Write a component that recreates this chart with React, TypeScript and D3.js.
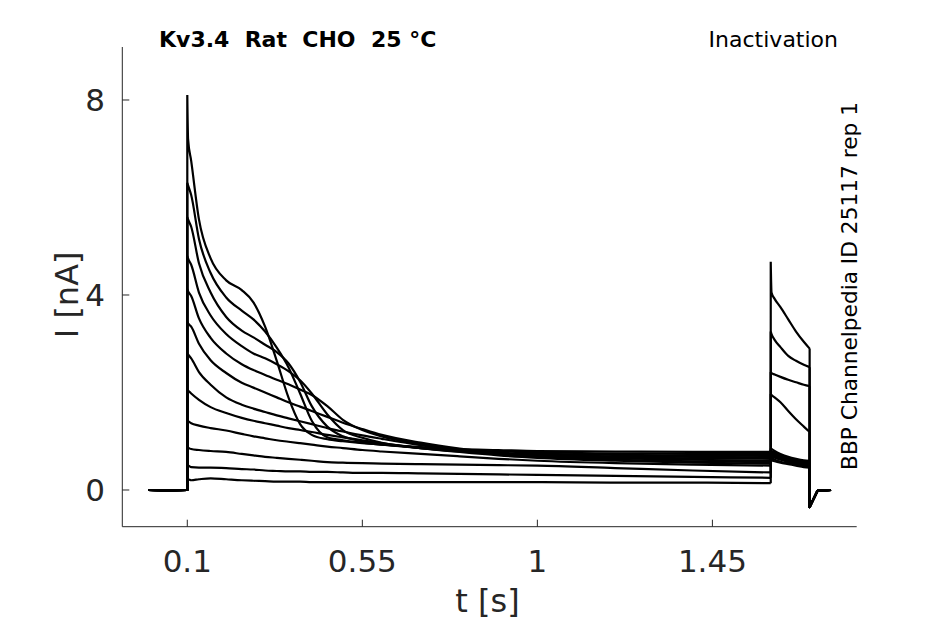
import React, { useEffect, useRef } from 'react';
import * as d3 from 'd3';

// sample times (s)
const baselineT = [0, 0.05, 0.1];
const prepulseT = [0.1, 0.102, 0.11, 0.13, 0.16, 0.2, 0.24, 0.27, 0.3, 0.33, 0.36, 0.39, 0.42, 0.46, 0.5, 0.55, 0.6, 0.7, 0.8, 0.9, 1.0, 1.2, 1.4, 1.6];
const testT = [1.6, 1.602, 1.61, 1.625, 1.645, 1.665, 1.685, 1.7];
const tailT = [1.7, 1.703, 1.72, 1.755];

// currents (nA)
const baselineI = [0, -0.01, 0];
const tailI = [-0.35, -0.3, -0.02, 0];

const sweep1 = [8.1, 7.2, 6.75, 5.55, 4.75, 4.3, 4.1, 3.85, 3.35, 2.65, 1.9, 1.35, 1.13, 1.04, 1.0, 0.96, 0.93, 0.88, 0.84, 0.82, 0.8, 0.79, 0.78, 0.78];
const sweep2 = [6.3, 6.25, 6.05, 5.15, 4.45, 3.95, 3.68, 3.5, 3.25, 2.92, 2.52, 1.98, 1.42, 1.08, 1.02, 0.97, 0.93, 0.87, 0.82, 0.79, 0.77, 0.75, 0.74, 0.74];
const sweep3 = [5.6, 5.55, 5.4, 4.65, 4.05, 3.55, 3.27, 3.13, 2.98, 2.83, 2.6, 2.22, 1.72, 1.3, 1.1, 1.0, 0.94, 0.86, 0.8, 0.76, 0.74, 0.72, 0.71, 0.7];
const sweep4 = [4.8, 4.75, 4.62, 4.05, 3.58, 3.2, 2.95, 2.8, 2.7, 2.58, 2.44, 2.25, 1.98, 1.55, 1.23, 1.07, 0.97, 0.86, 0.79, 0.74, 0.71, 0.69, 0.68, 0.67];
const sweep5 = [4.12, 4.08, 3.98, 3.52, 3.12, 2.8, 2.58, 2.46, 2.36, 2.26, 2.17, 2.06, 1.95, 1.72, 1.44, 1.23, 1.1, 0.94, 0.83, 0.76, 0.71, 0.67, 0.65, 0.64];
const sweep6 = [3.45, 3.42, 3.35, 3.0, 2.66, 2.4, 2.2, 2.1, 2.0, 1.9, 1.8, 1.71, 1.62, 1.5, 1.38, 1.25, 1.13, 0.97, 0.85, 0.76, 0.7, 0.65, 0.62, 0.6];
const sweep7 = [2.8, 2.78, 2.7, 2.42, 2.16, 1.9, 1.75, 1.67, 1.6, 1.53, 1.47, 1.41, 1.35, 1.27, 1.2, 1.12, 1.05, 0.92, 0.82, 0.74, 0.68, 0.62, 0.59, 0.57];
const sweep8 = [2.05, 2.04, 1.98, 1.85, 1.7, 1.58, 1.48, 1.42, 1.37, 1.32, 1.27, 1.23, 1.19, 1.13, 1.08, 1.02, 0.96, 0.86, 0.78, 0.71, 0.66, 0.6, 0.56, 0.54];
const sweep9 = [1.42, 1.41, 1.37, 1.32, 1.27, 1.22, 1.15, 1.1, 1.06, 1.02, 0.99, 0.96, 0.93, 0.89, 0.86, 0.82, 0.79, 0.74, 0.69, 0.64, 0.6, 0.55, 0.52, 0.5];
const sweep10 = [0.88, 0.87, 0.84, 0.82, 0.8, 0.78, 0.74, 0.71, 0.68, 0.66, 0.64, 0.62, 0.6, 0.57, 0.56, 0.55, 0.54, 0.53, 0.52, 0.51, 0.5, 0.45, 0.4, 0.36];
const sweep11 = [0.5, 0.5, 0.47, 0.46, 0.46, 0.45, 0.43, 0.42, 0.4, 0.39, 0.38, 0.38, 0.37, 0.37, 0.36, 0.35, 0.35, 0.34, 0.33, 0.32, 0.31, 0.29, 0.27, 0.25];
const sweep12 = [0.22, 0.22, 0.2, 0.22, 0.24, 0.22, 0.2, 0.19, 0.18, 0.17, 0.17, 0.17, 0.16, 0.16, 0.16, 0.16, 0.16, 0.16, 0.16, 0.16, 0.16, 0.15, 0.15, 0.14];

const test1 = [0.85, 0.84, 0.8, 0.74, 0.68, 0.64, 0.61, 0.6];
const test2 = [0.82, 0.8, 0.77, 0.72, 0.66, 0.62, 0.59, 0.58];
const test3 = [0.78, 0.77, 0.74, 0.69, 0.64, 0.6, 0.57, 0.56];
const test4 = [0.75, 0.74, 0.71, 0.67, 0.62, 0.58, 0.55, 0.54];
const test5 = [0.72, 0.71, 0.68, 0.64, 0.6, 0.56, 0.53, 0.52];
const test6 = [0.7, 0.69, 0.66, 0.62, 0.58, 0.54, 0.51, 0.5];
const test7 = [0.66, 0.65, 0.62, 0.58, 0.55, 0.52, 0.49, 0.48];
const test8 = [0.62, 0.61, 0.59, 0.56, 0.53, 0.5, 0.47, 0.46];
const test9 = [1.97, 1.95, 1.9, 1.8, 1.62, 1.45, 1.3, 1.19];
const test10 = [2.42, 2.4, 2.37, 2.32, 2.26, 2.21, 2.16, 2.13];
const test11 = [3.25, 3.2, 3.08, 2.93, 2.75, 2.65, 2.57, 2.52];
const test12 = [4.68, 4.05, 3.92, 3.75, 3.5, 3.25, 3.04, 2.9];

const prepulses = [sweep1, sweep2, sweep3, sweep4, sweep5, sweep6, sweep7, sweep8, sweep9, sweep10, sweep11, sweep12];
const tests = [test1, test2, test3, test4, test5, test6, test7, test8, test9, test10, test11, test12];

const xTicks = [0.1, 0.55, 1, 1.45];
const xTickLabels = ['0.1', '0.55', '1', '1.45'];
const yTicks = [0, 4, 8];

const title = 'Kv3.4\u00a0\u00a0Rat\u00a0\u00a0CHO\u00a0\u00a025 °C';
const protocol = 'Inactivation';
const source = 'BBP Channelpedia ID 25117 rep 1';

const App = () => {
  const ref = useRef(null);

  useEffect(() => {
    const W = 945, H = 624;
    const left = 122.3, right = 856.7, top = 47, bottom = 526.7;
    const axisColor = '#262626';
    const font = 'DejaVu Sans, sans-serif';

    d3.select(ref.current).selectAll('*').remove();
    const svg = d3.select(ref.current)
      .append('svg')
      .attr('width', W)
      .attr('height', H)
      .style('position', 'absolute')
      .style('left', '0px')
      .style('top', '0px')
      .style('background', '#fff');

    const x = d3.scaleLinear().domain([-0.0671, 1.821]).range([left, right]);
    const y = d3.scaleLinear().domain([-0.753, 9.087]).range([bottom, top]);

    const linear = d3.line().x(d => x(d[0])).y(d => y(d[1]));
    const smooth = d3.line().x(d => x(d[0])).y(d => y(d[1])).curve(d3.curveMonotoneX);
    const zip = (ts, vs) => ts.map((t, i) => [t, vs[i]]);

    // sweeps
    const g = svg.append('g');
    prepulses.forEach((pre, k) => {
      const test = tests[k];
      const d =
        linear([...zip(baselineT, baselineI), [prepulseT[0], pre[0]]]) +
        smooth(zip(prepulseT, pre)) +
        linear([[testT[0], pre[pre.length - 1]], [testT[0], test[0]]]) +
        smooth(zip(testT, test)) +
        linear([[tailT[0], test[test.length - 1]], ...zip(tailT, tailI)]);
      g.append('path')
        .attr('d', d)
        .attr('fill', 'none')
        .attr('stroke', '#000')
        .attr('stroke-width', 2.2)
        .attr('stroke-linejoin', 'round');
    });

    // axes (MATLAB style, inward ticks, no box)
    const ax = svg.append('g').attr('stroke', axisColor).attr('stroke-width', 1).attr('fill', 'none');
    ax.append('line').attr('x1', left).attr('x2', right).attr('y1', bottom).attr('y2', bottom);
    ax.append('line').attr('x1', left).attr('x2', left).attr('y1', top).attr('y2', bottom);
    xTicks.forEach(t => {
      ax.append('line').attr('x1', x(t)).attr('x2', x(t)).attr('y1', bottom).attr('y2', bottom - 7);
    });
    yTicks.forEach(v => {
      ax.append('line').attr('x1', left).attr('x2', left + 7).attr('y1', y(v)).attr('y2', y(v));
    });

    const txt = svg.append('g').attr('font-family', font).attr('fill', axisColor);
    xTicks.forEach((t, i) => {
      txt.append('text')
        .attr('x', x(t))
        .attr('y', 572)
        .attr('text-anchor', 'middle')
        .attr('font-size', 31)
        .text(xTickLabels[i]);
    });
    yTicks.forEach(v => {
      txt.append('text')
        .attr('x', 105)
        .attr('y', y(v) + 11)
        .attr('text-anchor', 'end')
        .attr('font-size', 31)
        .text(String(v));
    });

    txt.append('text')
      .attr('x', (left + right) / 2 - 2)
      .attr('y', 612)
      .attr('text-anchor', 'middle')
      .attr('font-size', 32)
      .text('t [s]');

    txt.append('text')
      .attr('transform', `translate(78,${(top + bottom) / 2 + 8}) rotate(-90)`)
      .attr('text-anchor', 'middle')
      .attr('font-size', 32)
      .text('I [nA]');

    svg.append('text')
      .attr('x', 159)
      .attr('y', 47)
      .attr('font-family', font)
      .attr('font-weight', 'bold')
      .attr('font-size', 22)
      .attr('fill', '#000')
      .text(title);

    svg.append('text')
      .attr('x', 838)
      .attr('y', 47)
      .attr('text-anchor', 'end')
      .attr('font-family', font)
      .attr('font-size', 22)
      .attr('fill', '#000')
      .text(protocol);

    svg.append('text')
      .attr('transform', `translate(857,286) rotate(-90)`)
      .attr('text-anchor', 'middle')
      .attr('font-family', font)
      .attr('font-size', 21.7)
      .attr('fill', '#000')
      .text(source);
  }, []);

  return <div ref={ref} />;
};

export default App;
